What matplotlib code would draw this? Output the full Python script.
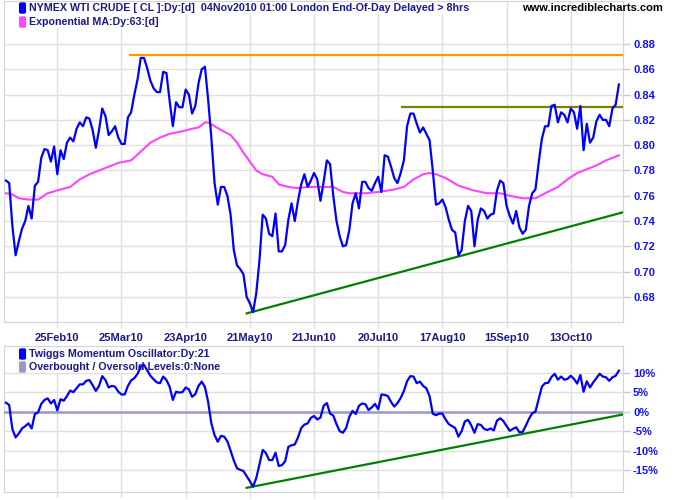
import matplotlib
matplotlib.use("Agg")
import matplotlib.pyplot as plt
from matplotlib.patches import FancyBboxPatch

plt.rcParams['font.family'] = ['Liberation Sans', 'DejaVu Sans']

# price, one value per trading day (day 0 = early Feb 2010)
price = [0.772, 0.770, 0.736, 0.713, 0.724, 0.734, 0.740, 0.752, 0.742, 0.768,
         0.771, 0.790, 0.797, 0.796, 0.787, 0.799, 0.777, 0.796, 0.789, 0.802,
         0.806, 0.803, 0.813, 0.818, 0.815, 0.822, 0.821, 0.812, 0.798, 0.812,
         0.829, 0.823, 0.808, 0.811, 0.815, 0.806, 0.801, 0.801, 0.822, 0.826,
         0.840, 0.852, 0.869, 0.869, 0.861, 0.851, 0.845, 0.842, 0.842, 0.858,
         0.857, 0.835, 0.815, 0.834, 0.830, 0.830, 0.844, 0.840, 0.825, 0.831,
         0.849, 0.860, 0.862, 0.836, 0.806, 0.770, 0.753, 0.767, 0.767, 0.760,
         0.745, 0.717, 0.705, 0.702, 0.698, 0.680, 0.675, 0.668, 0.683, 0.709,
         0.745, 0.742, 0.730, 0.728, 0.746, 0.716, 0.716, 0.721, 0.741, 0.754,
         0.740, 0.756, 0.769, 0.777, 0.767, 0.772, 0.778, 0.773, 0.756, 0.771,
         0.788, 0.785, 0.760, 0.740, 0.728, 0.720, 0.721, 0.733, 0.754, 0.762,
         0.750, 0.771, 0.771, 0.766, 0.764, 0.770, 0.775, 0.763, 0.792, 0.791,
         0.783, 0.774, 0.770, 0.778, 0.788, 0.815, 0.825, 0.825, 0.817, 0.810,
         0.814, 0.809, 0.804, 0.780, 0.753, 0.754, 0.757, 0.751, 0.741, 0.733,
         0.731, 0.713, 0.717, 0.740, 0.752, 0.748, 0.720, 0.741, 0.750, 0.748,
         0.742, 0.745, 0.746, 0.764, 0.772, 0.770, 0.752, 0.744, 0.738, 0.748,
         0.735, 0.730, 0.733, 0.752, 0.762, 0.765, 0.786, 0.805, 0.815, 0.815,
         0.831, 0.832, 0.818, 0.826, 0.824, 0.818, 0.829, 0.826, 0.813, 0.831,
         0.796, 0.817, 0.802, 0.806, 0.819, 0.824, 0.820, 0.820, 0.815, 0.829,
         0.832, 0.848]

# 63-day exponential MA, read at turning points
ma_day = [0, 2, 4, 7, 10, 13, 17, 20, 23, 26, 29, 32, 35, 39, 42, 45, 48, 51, 55,
          58, 60, 62, 63, 65, 67, 70, 72, 74, 76, 78, 80, 83, 85, 88, 91, 94, 98,
          102, 105, 107, 112, 116, 121, 124, 127, 130, 132, 134, 137, 141, 146,
          150, 154, 157, 161, 165, 168, 172, 175, 178, 181, 184, 187, 191]
ma_val = [0.762, 0.761, 0.758, 0.757, 0.757, 0.762, 0.765, 0.767, 0.773, 0.777,
          0.780, 0.783, 0.786, 0.788, 0.795, 0.802, 0.806, 0.809, 0.811, 0.813,
          0.814, 0.818, 0.818, 0.815, 0.812, 0.808, 0.802, 0.794, 0.787, 0.780,
          0.777, 0.775, 0.769, 0.767, 0.766, 0.767, 0.767, 0.767, 0.763, 0.762,
          0.762, 0.763, 0.765, 0.767, 0.773, 0.777, 0.778, 0.777, 0.774, 0.768,
          0.764, 0.762, 0.762, 0.760, 0.758, 0.758, 0.762, 0.767, 0.773, 0.778,
          0.781, 0.784, 0.788, 0.792]

# Twiggs Momentum (%)
momentum = [2.3, 1.7, -4.5, -6.6, -5.6, -4.3, -3.7, -3.0, -4.3, -0.6,
            -0.2, 2.0, 3.0, 3.4, 2.1, 3.0, 0.3, 3.2, 2.8, 4.0,
            5.4, 5.0, 6.0, 7.0, 7.0, 7.9, 8.1, 6.8, 5.3, 6.6,
            9.1, 8.1, 6.2, 6.6, 6.4, 5.1, 4.4, 4.4, 6.6, 8.0,
            8.6, 9.7, 11.5, 12.0, 10.6, 9.2, 8.3, 7.5, 7.3, 9.0,
            8.1, 6.4, 3.0, 5.1, 4.9, 5.0, 6.2, 5.7, 3.8, 4.5,
            6.6, 7.7, 6.3, 2.5, -3.0, -6.0, -7.7, -6.2, -6.4, -7.6,
            -10.0, -12.5, -14.5, -14.9, -15.2, -16.5, -17.8, -19.2, -17.0, -13.5,
            -9.8, -10.6, -12.4, -12.4, -10.5, -13.9, -13.7, -12.7, -9.0, -8.6,
            -8.4, -6.6, -4.2, -3.3, -3.0, -1.6, -1.1, -2.0, -1.5, 1.5,
            2.2, -0.5, -1.0, -3.2, -5.0, -5.4, -4.2, -1.3, 0.2, -0.6,
            1.5, 2.1, 1.9, 0.4, 1.1, 2.0, 0.6, 4.4, 4.3, 4.0,
            2.5, 1.3, 2.2, 3.5, 5.3, 7.8, 9.1, 9.0, 7.3, 7.7,
            6.6, 6.0, 4.0, -0.5, -0.9, -0.5, -0.5, -2.0, -3.2, -3.7,
            -4.2, -6.4, -5.0, -2.5, -2.1, -3.5, -5.4, -3.2, -3.4, -4.4,
            -4.7, -4.3, -4.8, -2.3, -1.7, -2.4, -3.7, -4.9, -4.4, -4.0,
            -5.3, -5.2, -3.6, -1.8, -0.4, 0.0, 3.2, 6.4, 7.3, 7.4,
            8.9, 9.7, 8.2, 9.0, 8.2, 8.4, 9.2, 8.4, 7.2, 9.4,
            5.1, 7.8, 6.2, 7.5, 8.6, 9.7, 9.0, 8.8, 7.9, 8.8,
            9.2, 10.5]

date_ticks = [16, 36, 56, 76, 96, 116, 136, 156, 176]
date_labels = ["25Feb10", "25Mar10", "23Apr10", "21May10", "21Jun10",
               "20Jul10", "17Aug10", "15Sep10", "13Oct10"]

last_day = 192.4
# trend / resistance lines: (start day, start value, end value)
support_price = (75, 0.667, 0.747)
high_line = (38.5, 0.871)
top_line = (123.5, 0.830)
support_mom = (75, -19.5, -0.7)

price_ticks = [0.68, 0.70, 0.72, 0.74, 0.76, 0.78, 0.80, 0.82, 0.84, 0.86, 0.88]
mom_ticks = [-15, -10, -5, 0, 5, 10]

navy = "#1a1a8c"
tick_blue = "#1010ff"
grid_c = "#e0e0e0"

W, H = 675, 500
fig = plt.figure(figsize=(6.75, 5), dpi=100)
ax1 = fig.add_axes([0.006, 0.356, 0.9175, 0.642])
ax2 = fig.add_axes([0.006, 0.0166, 0.9175, 0.292])

days = list(range(len(price)))

for ax in (ax1, ax2):
    ax.set_xlim(-0.6, last_day)
    ax.set_xticks(date_ticks)
    ax.grid(True, color=grid_c, linewidth=1)
    ax.set_axisbelow(True)
    for s in ax.spines.values():
        s.set_color("#d4d4d4")
    ax.yaxis.tick_right()
    ax.tick_params(axis="y", colors="#c8c8e0", length=5, width=1, pad=2,
                   labelcolor=tick_blue, labelsize=8)
    ax.tick_params(axis="x", colors=grid_c, length=4, width=1,
                   labelcolor=navy, labelsize=8, pad=4)

# top panel
ax1.set_ylim(0.6602, 0.914)
ax1.set_yticks(price_ticks)
ax1.set_yticklabels([f"{v:.2f}" for v in price_ticks], fontweight="bold")
ax1.set_xticklabels(date_labels, fontweight="bold")

ax1.plot([high_line[0], last_day], [high_line[1], high_line[1]], color="#ff9900", lw=1.6, zorder=3)
ax1.plot([top_line[0], last_day], [top_line[1], top_line[1]], color="#808000", lw=1.6, zorder=3)
ax1.plot([support_price[0], last_day], [support_price[1], support_price[2]], color="#008000", lw=1.6, zorder=3)
ax1.plot(ma_day, ma_val, color="#ff44ff", lw=1.5, zorder=4)
ax1.plot(days, price, color="#0000ff", lw=1.6, zorder=5)

# bottom panel
ax2.set_ylim(-20.5, 16.9)
ax2.set_yticks(mom_ticks)
ax2.set_yticklabels([f"{v}%" for v in mom_ticks], fontweight="bold")
ax2.tick_params(axis="x", labelbottom=False)
ax2.axhline(0, color="#9999cc", lw=1.8, zorder=3)
ax2.plot([support_mom[0], last_day], [support_mom[1], support_mom[2]], color="#008000", lw=1.6, zorder=3)
ax2.plot(days, momentum, color="#0000ff", lw=1.6, zorder=5)


def legend_row(ax, y_px, color, text):
    # y_px = centre of row, measured from top of image; drawn under the data lines
    ax.add_patch(FancyBboxPatch((21 / W, 1 - (y_px + 4) / H), 3 / W, 8 / H,
                                transform=fig.transFigure, boxstyle="round,pad=0.002",
                                fc=color, ec=color, zorder=2, clip_on=False))
    ax.text(29 / W, 1 - y_px / H, text, transform=fig.transFigure, fontsize=7.7,
            fontweight="bold", color=navy, va="center", ha="left", zorder=2,
            clip_on=False, bbox=dict(fc="white", ec="none", pad=0.5))


legend_row(ax1, 8, "#0000ff", "NYMEX WTI CRUDE [ CL ]:Dy:[d]  04Nov2010 01:00 London End-Of-Day Delayed > 8hrs")
legend_row(ax1, 22, "#ff44ff", "Exponential MA:Dy:63:[d]")
legend_row(ax2, 354, "#0000ff", "Twiggs Momentum Oscillator:Dy:21")
legend_row(ax2, 367, "#9999cc", "Overbought / Oversold Levels:0:None")

fig.text(592 / W, 1 - 8 / H, "www.incrediblecharts.com", fontsize=8, fontweight="bold",
         color="black", ha="center", va="center")

fig.savefig("out.png", dpi=100)
